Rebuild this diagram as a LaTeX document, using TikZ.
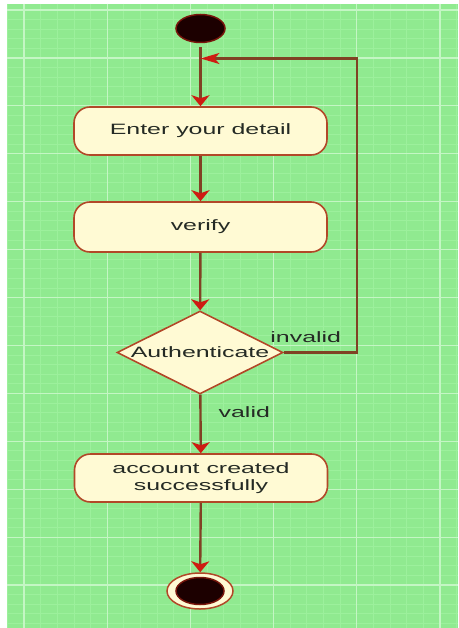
\documentclass[tikz,border=0pt]{standalone}
\usepackage{graphicx}
\usepackage{fontspec}
\setmainfont{Liberation Sans}
\usetikzlibrary{arrows.meta,shapes.geometric,shapes.misc}

\definecolor{bggreen}{RGB}{144,234,144}
\definecolor{minorline}{RGB}{156,240,156}
\definecolor{majorline}{RGB}{196,246,196}
\definecolor{boxfill}{RGB}{255,250,212}
\definecolor{boxedge}{RGB}{178,72,40}
\definecolor{flowline}{RGB}{128,66,36}
\definecolor{tipred}{RGB}{206,28,18}
\definecolor{dotfill}{RGB}{28,0,0}
\definecolor{dotedge}{RGB}{120,22,12}
\definecolor{labeltext}{RGB}{36,42,36}

% horizontally widened lettering
\newcommand{\widetext}[1]{\scalebox{1.66}[1]{#1}}

\tikzset{
  labelfont/.style={text=labeltext, font=\fontsize{15}{17.5}\selectfont},
  action/.style={rectangle, rounded corners=16pt, draw=boxedge, line width=1.6pt,
    fill=boxfill, minimum width=253pt, minimum height=48pt, align=center, labelfont},
  decision/.style={diamond, aspect=2, inner sep=0pt, draw=boxedge, line width=1.6pt,
    fill=boxfill, minimum width=166pt, minimum height=83pt, labelfont},
  startdot/.style={ellipse, fill=dotfill, draw=dotedge, line width=1.5pt,
    minimum width=49pt, minimum height=28pt, inner sep=0pt},
  endring/.style={ellipse, fill=boxfill, draw=boxedge, line width=1.5pt,
    minimum width=66pt, minimum height=36pt, inner sep=0pt},
  flow/.style={draw=flowline, line width=2.4pt,
    -{Stealth[length=11pt, width=18pt, inset=3pt, color=tipred]}},
  backflow/.style={draw=flowline, line width=2.4pt,
    -{Stealth[length=19pt, width=11pt, inset=5pt, color=tipred]}},
  edgelabel/.style={labelfont, inner sep=0pt},
}

\begin{document}
\begin{tikzpicture}[x=1pt, y=-1pt]
  \useasboundingbox (0,0) rectangle (458,628);
  \fill[white] (0,0) rectangle (458,628);

  % grid paper background
  \fill[bggreen] (7,4) rectangle (458,628);
  \begin{scope}
    \clip (7,4) rectangle (458,628);
    \foreach \i in {0,...,27}
      \draw[minorline, line width=0.8pt] ({7.36+16.64*\i},4) -- ({7.36+16.64*\i},628);
    \foreach \j in {1,...,65}
      \draw[minorline, line width=0.8pt] (7,{0.42+9.584*\j}) -- (458,{0.42+9.584*\j});
    \foreach \i in {0,...,5}
      \draw[majorline, line width=1.2pt] ({24+83.2*\i},4) -- ({24+83.2*\i},628);
    \foreach \j in {0,...,12}
      \draw[majorline, line width=1.2pt] (7,{10+47.92*\j}) -- (458,{10+47.92*\j});
  \end{scope}

  % activity nodes
  \node[startdot] (start) at (200.5,28.5) {};
  \node[action] (enter) at (200.5,131) {\widetext{Enter your detail}};
  \node[action, minimum height=50pt] (verify) at (200.5,227) {\widetext{verify}};
  \node[decision] (auth) at (200,352.5) {\widetext{Authenticate}};
  \node[action] (account) at (201,478) {\widetext{account created}\\\widetext{successfully}};
  \node[endring] (finish) at (200,591) {};
  \node[startdot, minimum width=48pt, minimum height=27pt] (finishdot) at (finish) {};

  \coordinate (merge) at (200.5,58.5);
  \coordinate (loopcorner) at (357,352.5);

  % control flow
  \draw[flow, shorten <=4pt] (start) -- (enter);
  \draw[flow] (enter) -- (verify);
  \draw[flow] (verify) -- (auth);
  \draw[flow] (auth) -- node[edgelabel, pos=0.3, anchor=west, xshift=17pt] {\widetext{valid}} (account);
  \draw[flow] (account) -- (finish);
  \draw[backflow] (auth.east) -- node[edgelabel, pos=0.3, anchor=south, yshift=9pt] {\widetext{invalid}} (loopcorner) |- (merge);
\end{tikzpicture}
\end{document}
